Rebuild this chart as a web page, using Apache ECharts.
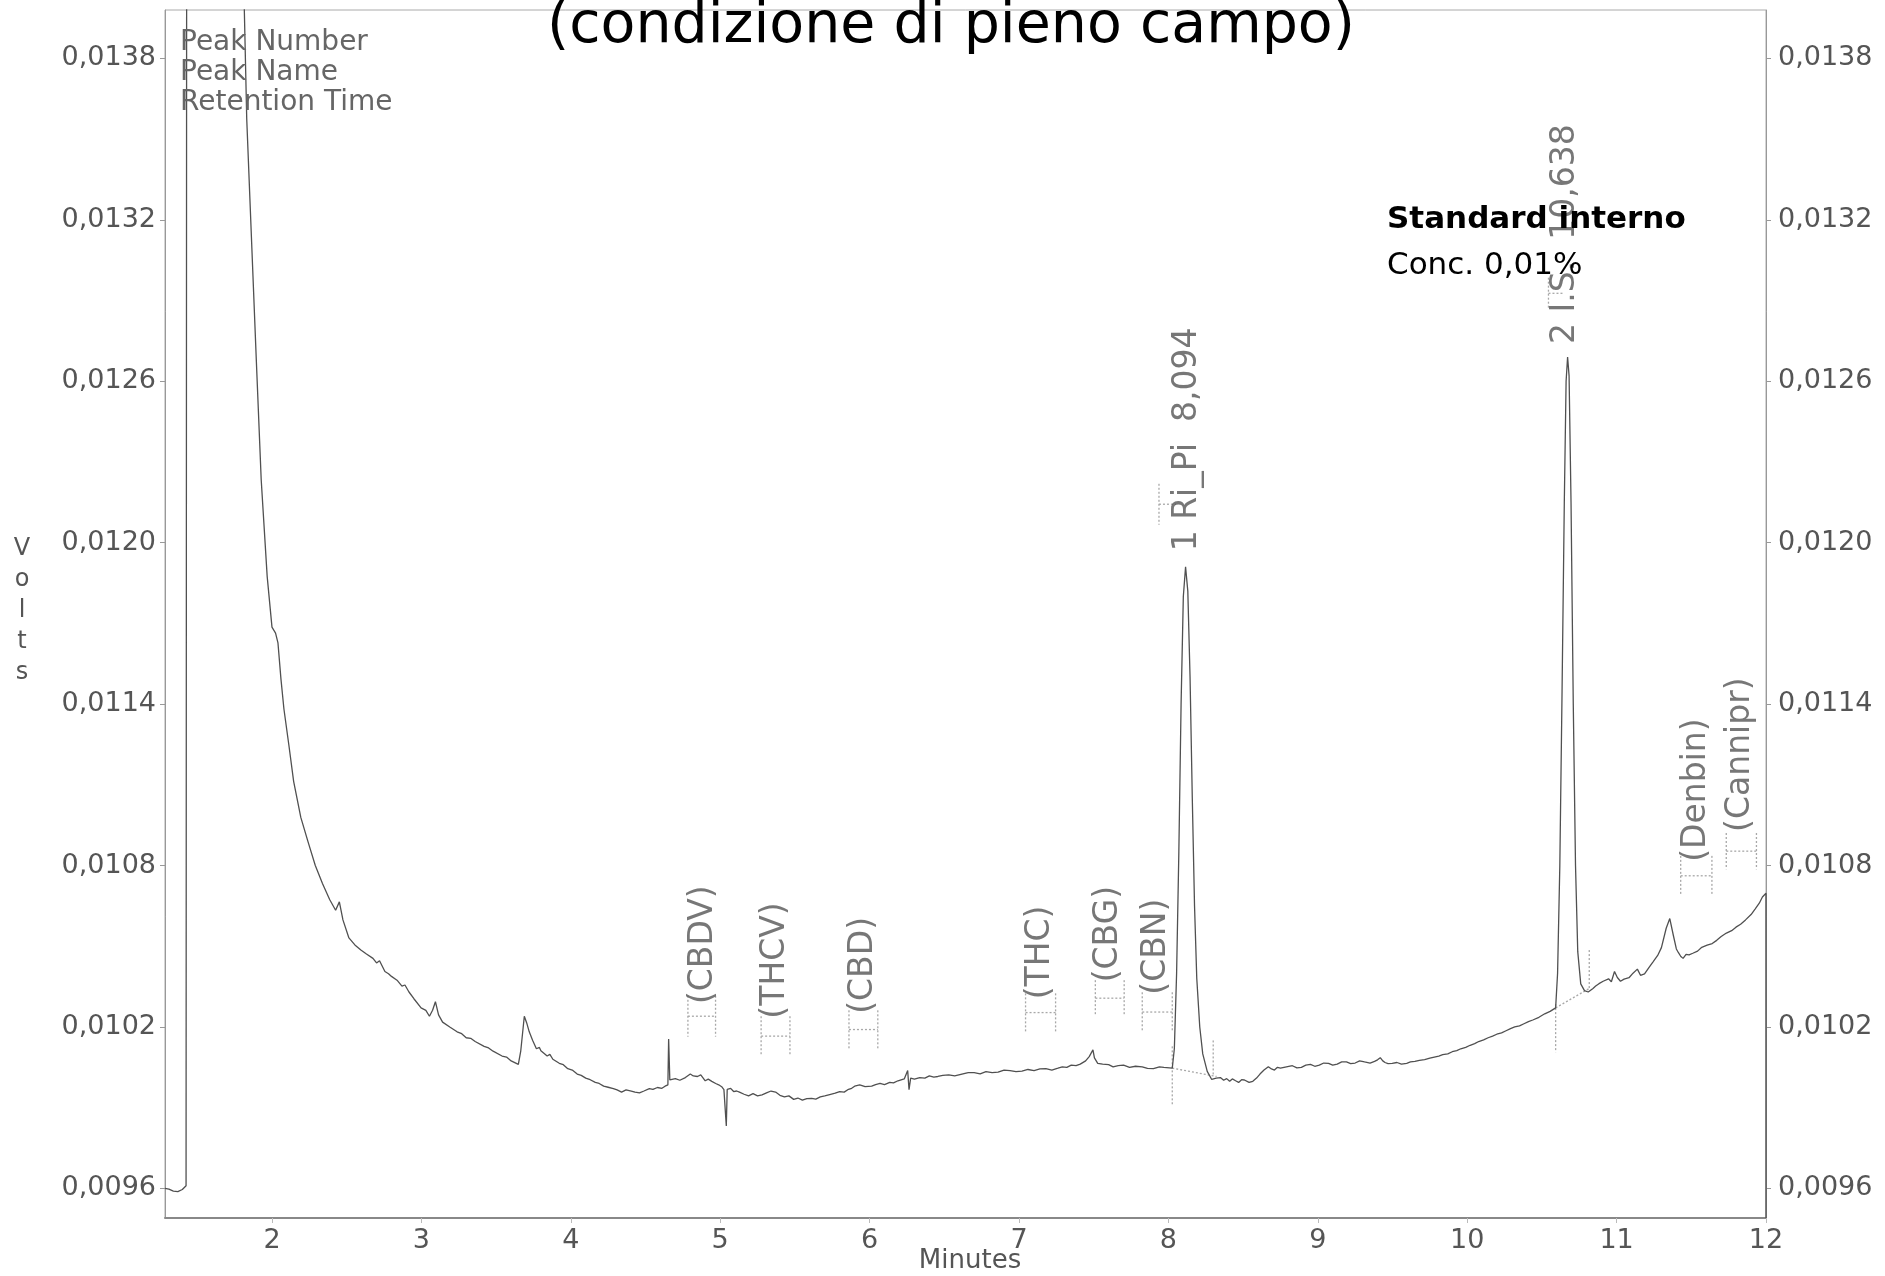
<!DOCTYPE html>
<html>
<head>
<meta charset="utf-8">
<script src="https://cdn.jsdelivr.net/npm/echarts@6/dist/echarts.min.js"></script>
<style>
  html, body { margin: 0; background: #fff; }
  #main { width: 1885px; height: 1276px; }
</style>
</head>
<body>
<div id="main"></div>
<script>
// chromatogram trace, [minutes, volts]
var solventFront = [
  [1.284, 0.009600], [1.31, 0.009597], [1.34, 0.009590], [1.37, 0.009588], [1.40, 0.009596], [1.425, 0.009610],
  [1.43, 0.01550], [1.44, 0.01620], [1.78, 0.01620],
  [1.815, 0.013979], [1.831, 0.013576], [1.863, 0.013128], [1.895, 0.012681], [1.928, 0.012233], [1.968, 0.011874],
  [2.0, 0.011686], [2.024, 0.011664], [2.04, 0.011628], [2.06, 0.011494], [2.08, 0.011382], [2.113, 0.011248],
  [2.145, 0.011113], [2.193, 0.010979], [2.241, 0.010889], [2.29, 0.010800], [2.338, 0.010733], [2.386, 0.010674],
  [2.426, 0.010634], [2.451, 0.010665], [2.475, 0.010598], [2.515, 0.010531]
];
var baselineEarly = [
  [2.555, 0.010505], [2.595, 0.010486], [2.63, 0.010472], [2.676, 0.010455], [2.70, 0.010438], [2.72, 0.010446],
  [2.756, 0.010406], [2.78, 0.010398], [2.80, 0.010388], [2.837, 0.010374], [2.87, 0.010352], [2.89, 0.010356],
  [2.917, 0.010330], [2.95, 0.010305], [2.998, 0.010271], [3.03, 0.010262], [3.054, 0.010240], [3.075, 0.010262],
  [3.094, 0.010294], [3.115, 0.010245], [3.142, 0.010218], [3.19, 0.010200], [3.239, 0.010182], [3.27, 0.010175],
  [3.30, 0.010160], [3.33, 0.010158], [3.36, 0.010146], [3.42, 0.010128], [3.45, 0.010122], [3.48, 0.010110],
  [3.54, 0.010092], [3.57, 0.010088], [3.601, 0.010074], [3.649, 0.010061], [3.665, 0.010110], [3.689, 0.010240],
  [3.705, 0.010215], [3.722, 0.010182], [3.745, 0.010150], [3.77, 0.010119], [3.79, 0.010124], [3.80, 0.010112],
  [3.842, 0.010092], [3.86, 0.010098], [3.88, 0.010080], [3.923, 0.010065], [3.95, 0.010060], [3.98, 0.010045],
  [4.01, 0.010040], [4.043, 0.010025], [4.07, 0.010020], [4.10, 0.010010], [4.13, 0.010004], [4.164, 0.009994],
  [4.19, 0.009990], [4.22, 0.009980], [4.25, 0.009976], [4.285, 0.009971], [4.31, 0.009966], [4.34, 0.009958],
  [4.37, 0.009966], [4.405, 0.009962], [4.43, 0.009958], [4.46, 0.009955], [4.49, 0.009962], [4.526, 0.009971],
  [4.55, 0.009968], [4.58, 0.009975], [4.61, 0.009972], [4.631, 0.009980], [4.650, 0.009985], [4.655, 0.010155],
  [4.663, 0.010003]
];
var baselineMid = [
  [4.70, 0.010008], [4.73, 0.010002], [4.767, 0.010012], [4.80, 0.010025], [4.82, 0.010018], [4.848, 0.010016],
  [4.87, 0.010022], [4.90, 0.010000], [4.92, 0.010006], [4.944, 0.009998], [4.97, 0.009990], [4.99, 0.009985],
  [5.01, 0.009978], [5.025, 0.009967], [5.035, 0.009965], [5.041, 0.009832], [5.047, 0.009968], [5.057, 0.009967],
  [5.07, 0.009972], [5.09, 0.009960], [5.11, 0.009962], [5.129, 0.009958], [5.16, 0.009950], [5.19, 0.009944],
  [5.22, 0.009952], [5.25, 0.009944], [5.28, 0.009948], [5.31, 0.009955], [5.34, 0.009962], [5.371, 0.009958],
  [5.40, 0.009946], [5.43, 0.009940], [5.46, 0.009944], [5.492, 0.009931], [5.52, 0.009936], [5.55, 0.009928],
  [5.58, 0.009934], [5.612, 0.009935], [5.64, 0.009932], [5.67, 0.009940], [5.70, 0.009944], [5.733, 0.009949],
  [5.77, 0.009954], [5.80, 0.009960], [5.83, 0.009958], [5.854, 0.009967], [5.88, 0.009972], [5.90, 0.009980],
  [5.934, 0.009985], [5.97, 0.009978], [6.014, 0.009980], [6.04, 0.009986], [6.07, 0.009990], [6.10, 0.009986],
  [6.135, 0.009994], [6.16, 0.009992], [6.19, 0.010000], [6.232, 0.010007], [6.255, 0.010038], [6.264, 0.009967],
  [6.275, 0.010010], [6.30, 0.010006], [6.336, 0.010012], [6.37, 0.010010], [6.40, 0.010018], [6.43, 0.010014],
  [6.457, 0.010016], [6.49, 0.010020], [6.53, 0.010022], [6.57, 0.010018], [6.618, 0.010025], [6.66, 0.010030],
  [6.70, 0.010030], [6.74, 0.010026], [6.779, 0.010034], [6.82, 0.010030], [6.86, 0.010032], [6.90, 0.010040],
  [6.94, 0.010038], [6.98, 0.010034], [7.02, 0.010036], [7.06, 0.010042], [7.101, 0.010038], [7.14, 0.010044],
  [7.18, 0.010045], [7.22, 0.010040], [7.261, 0.010047], [7.29, 0.010052], [7.32, 0.010050], [7.35, 0.010058],
  [7.382, 0.010056], [7.41, 0.010062], [7.446, 0.010074], [7.47, 0.010090], [7.495, 0.010115], [7.505, 0.010085],
  [7.527, 0.010065], [7.56, 0.010062], [7.60, 0.010060], [7.63, 0.010052], [7.664, 0.010056], [7.70, 0.010058],
  [7.74, 0.010050], [7.78, 0.010054], [7.825, 0.010052], [7.86, 0.010046], [7.90, 0.010045], [7.94, 0.010052],
  [7.97, 0.010050], [8.026, 0.010047]
];
var peakRiPi = [
  [8.04, 0.010120], [8.055, 0.010400], [8.07, 0.010850], [8.085, 0.011400], [8.10, 0.011800], [8.115, 0.011910],
  [8.13, 0.011820], [8.145, 0.011500], [8.16, 0.011050], [8.175, 0.010650], [8.19, 0.010380], [8.21, 0.010200],
  [8.23, 0.010100], [8.26, 0.010035], [8.29, 0.010005], [8.32, 0.010010]
];
var baselineLate = [
  [8.348, 0.010012], [8.37, 0.010002], [8.39, 0.010008], [8.41, 0.009998], [8.428, 0.010007], [8.45, 0.010000],
  [8.47, 0.009994], [8.49, 0.010004], [8.509, 0.010003], [8.54, 0.009994], [8.565, 0.009998], [8.59, 0.010010],
  [8.613, 0.010025], [8.64, 0.010040], [8.669, 0.010052], [8.69, 0.010044], [8.71, 0.010040], [8.73, 0.010050],
  [8.750, 0.010047], [8.79, 0.010052], [8.830, 0.010056], [8.86, 0.010048], [8.89, 0.010050], [8.92, 0.010058],
  [8.951, 0.010061], [8.98, 0.010054], [9.01, 0.010058], [9.04, 0.010066], [9.072, 0.010065], [9.10, 0.010058],
  [9.13, 0.010062], [9.16, 0.010070], [9.192, 0.010070], [9.22, 0.010064], [9.25, 0.010066], [9.28, 0.010074],
  [9.313, 0.010070], [9.35, 0.010066], [9.38, 0.010072], [9.40, 0.010078], [9.418, 0.010086], [9.435, 0.010074],
  [9.45, 0.010068], [9.47, 0.010064], [9.498, 0.010065], [9.53, 0.010068], [9.56, 0.010062], [9.595, 0.010065],
  [9.62, 0.010070], [9.65, 0.010072], [9.68, 0.010076], [9.715, 0.010079], [9.75, 0.010084], [9.78, 0.010088],
  [9.81, 0.010092], [9.836, 0.010097], [9.87, 0.010100], [9.90, 0.010108], [9.93, 0.010112], [9.957, 0.010119],
  [9.99, 0.010124], [10.02, 0.010132], [10.05, 0.010138], [10.077, 0.010146], [10.11, 0.010152], [10.14, 0.010160],
  [10.17, 0.010166], [10.198, 0.010173], [10.23, 0.010178], [10.26, 0.010186], [10.29, 0.010194], [10.318, 0.010200],
  [10.35, 0.010204], [10.38, 0.010212], [10.41, 0.010220], [10.439, 0.010226], [10.48, 0.010236], [10.519, 0.010249],
  [10.555, 0.010258], [10.592, 0.010271]
];
var peakIS = [
  [10.605, 0.010400], [10.62, 0.010800], [10.635, 0.011450], [10.65, 0.012150], [10.662, 0.012600], [10.672, 0.012690],
  [10.682, 0.012620], [10.695, 0.012150], [10.71, 0.011400], [10.725, 0.010800], [10.74, 0.010480], [10.76, 0.010360],
  [10.785, 0.010335], [10.81, 0.010330]
];
var baselineEnd = [
  [10.842, 0.010343], [10.86, 0.010352], [10.882, 0.010361], [10.91, 0.010370], [10.946, 0.010379], [10.965, 0.010368],
  [10.986, 0.010406], [11.005, 0.010384], [11.026, 0.010370], [11.05, 0.010378], [11.083, 0.010383], [11.11, 0.010400],
  [11.139, 0.010415], [11.16, 0.010392], [11.187, 0.010397], [11.215, 0.010420], [11.244, 0.010442], [11.275, 0.010466],
  [11.300, 0.010495], [11.332, 0.010567], [11.356, 0.010603], [11.380, 0.010540], [11.40, 0.010490], [11.413, 0.010477],
  [11.43, 0.010462], [11.445, 0.010455], [11.465, 0.010470], [11.485, 0.010468], [11.51, 0.010474], [11.542, 0.010482],
  [11.57, 0.010496], [11.606, 0.010504], [11.64, 0.010510], [11.670, 0.010522], [11.70, 0.010536], [11.735, 0.010549],
  [11.77, 0.010558], [11.799, 0.010571], [11.83, 0.010582], [11.863, 0.010598], [11.90, 0.010618], [11.928, 0.010639],
  [11.955, 0.010660], [11.976, 0.010683], [12.0, 0.010697], [12.0, 0.009490]
];

// expected retention windows: [from, to, low, high, both sides]
var peakWindows = [
  [4.784, 4.969, 0.010164, 0.010316, 1],
  [5.274, 5.467, 0.010092, 0.010240, 1],
  [5.862, 6.055, 0.010119, 0.010262, 1],
  [7.044, 7.245, 0.010182, 0.010325, 1],
  [7.511, 7.704, 0.010240, 0.010374, 1],
  [7.825, 8.026, 0.010182, 0.010329, 1],
  [11.429, 11.638, 0.010688, 0.010836, 1],
  [11.734, 11.936, 0.010786, 0.010921, 1],
  [7.937, 8.05, 0.012067, 0.012219, 0],
  [10.544, 10.64, 0.012869, 0.012985, 0]
];
// integration baselines and peak start/end marks: [t1, v1, t2, v2]
var integrationLines = [
  [8.026, 0.010047, 8.323, 0.010016],
  [8.026, 0.010128, 8.026, 0.009913],
  [8.300, 0.010150, 8.300, 0.010016],
  [10.592, 0.010271, 10.817, 0.010343],
  [10.592, 0.010285, 10.592, 0.010106],
  [10.817, 0.010486, 10.817, 0.010343]
];
var peakNames = ['(CBDV)', '(THCV)', '(CBD)', '(THC)', '(CBG)', '(CBN)',
  '1 Ri_Pi  8,094', '2 I.S.  10,638', '(Denbin)', '(Cannipr)'];
var peakLabelAt = [
  [4.888, 0.010285], [5.371, 0.010231], [5.958, 0.010249], [7.141, 0.010303], [7.599, 0.010366],
  [7.921, 0.010320], [8.13, 0.011968], [10.656, 0.012739], [11.533, 0.010814], [11.831, 0.010925]
];

var minuteTicks = [2, 3, 4, 5, 6, 7, 8, 9, 10, 11, 12];
var voltTicks = [0.0096, 0.0102, 0.0108, 0.0114, 0.0120, 0.0126, 0.0132, 0.0138];

var trace = [].concat(solventFront, baselineEarly, baselineMid, peakRiPi, baselineLate, peakIS, baselineEnd);
var FONT = 'DejaVu Sans';
var GREY = '#555';

var chart = echarts.init(document.getElementById('main'));

function voltLabel(v) { return v.toFixed(4).replace('.', ','); }

function yAxisFor(pos) {
  return {
    type: 'value', position: pos, min: 0.00949, max: 0.01398,
    axisLine: { show: true, lineStyle: { color: '#999', width: 1 } },
    axisTick: { show: true, customValues: voltTicks, length: 5, lineStyle: { color: '#999' } },
    axisLabel: { customValues: voltTicks, formatter: voltLabel, color: GREY, fontSize: 27,
      fontFamily: FONT, margin: pos === 'left' ? 9 : 12 },
    splitLine: { show: false }
  };
}

var dotted = { stroke: '#a8a8a8', lineWidth: 1.3, lineDash: [2, 2] };

chart.setOption({
  animation: false,
  backgroundColor: '#fff',
  grid: { left: 165, right: 119, top: 10, bottom: 58, show: true, borderColor: '#aaa', borderWidth: 1,
    outerBoundsMode: 'none' },
  xAxis: {
    type: 'value', min: 1.284, max: 12,
    axisLine: { show: true, lineStyle: { color: '#888', width: 2 } },
    axisTick: { show: true, customValues: minuteTicks, length: 5, lineStyle: { color: '#bbb' } },
    axisLabel: { customValues: minuteTicks, color: GREY, fontSize: 27, fontFamily: FONT, margin: 9 },
    splitLine: { show: false }
  },
  yAxis: [yAxisFor('left'), yAxisFor('right')],
  series: [
    {
      type: 'line', data: trace, showSymbol: false, symbol: 'none', clip: true,
      lineStyle: { color: '#505050', width: 1.3 }, z: 3
    },
    {
      type: 'custom', data: peakWindows, encode: { x: [0, 1], y: [2, 3] }, z: 2,
      renderItem: function (params, api) {
        var t1 = api.value(0), t2 = api.value(1), lo = api.value(2), hi = api.value(3);
        var a = api.coord([t1, hi]), b = api.coord([t1, lo]);
        var c = api.coord([t2, hi]), d = api.coord([t2, lo]);
        var mid = (a[1] + b[1]) / 2;
        var kids = [
          { type: 'line', shape: { x1: a[0], y1: a[1], x2: b[0], y2: b[1] }, style: dotted },
          { type: 'line', shape: { x1: a[0], y1: mid, x2: c[0], y2: mid }, style: dotted }
        ];
        if (api.value(4)) {
          kids.push({ type: 'line', shape: { x1: c[0], y1: c[1], x2: d[0], y2: d[1] }, style: dotted });
        }
        return { type: 'group', children: kids };
      }
    },
    {
      type: 'custom', data: integrationLines, encode: { x: [0, 2], y: [1, 3] }, z: 2,
      renderItem: function (params, api) {
        var p = api.coord([api.value(0), api.value(1)]);
        var q = api.coord([api.value(2), api.value(3)]);
        return { type: 'line', shape: { x1: p[0], y1: p[1], x2: q[0], y2: q[1] }, style: dotted };
      }
    },
    {
      type: 'scatter', symbolSize: 0, z: 4,
      data: peakLabelAt.map(function (p, i) { return { value: p, name: peakNames[i] }; }),
      label: {
        show: true, position: [0, 0], rotate: 90, align: 'left', verticalAlign: 'middle',
        formatter: '{b}', color: GREY, fontSize: 33, fontFamily: FONT
      }
    }
  ],
  graphic: [
    { type: 'text', z: 100, x: 951, y: 27,
      style: { text: '(condizione di pieno campo)', fill: '#000', font: '57px "DejaVu Sans"',
        align: 'center', verticalAlign: 'middle' } },
    { type: 'text', z: 100, x: 180, y: 73,
      style: { text: 'Peak Number\nPeak Name\nRetention Time', fill: '#666', font: '28px "DejaVu Sans"',
        lineHeight: 30, align: 'left', verticalAlign: 'middle' } },
    { type: 'text', z: 100, x: 22, y: 611,
      style: { text: 'V\no\nl\nt\ns', fill: GREY, font: '24px "DejaVu Sans"', lineHeight: 31,
        align: 'center', verticalAlign: 'middle' } },
    { type: 'text', z: 100, x: 970, y: 1261,
      style: { text: 'Minutes', fill: GREY, font: '26px "DejaVu Sans"',
        align: 'center', verticalAlign: 'middle' } },
    { type: 'text', z: 100, x: 1387, y: 220,
      style: { text: 'Standard interno', fill: '#000', font: 'bold 31px "DejaVu Sans"',
        align: 'left', verticalAlign: 'middle' } },
    { type: 'text', z: 100, x: 1387, y: 266,
      style: { text: 'Conc. 0,01%', fill: '#000', font: '31px "DejaVu Sans"',
        align: 'left', verticalAlign: 'middle' } }
  ]
});
</script>
</body>
</html>
